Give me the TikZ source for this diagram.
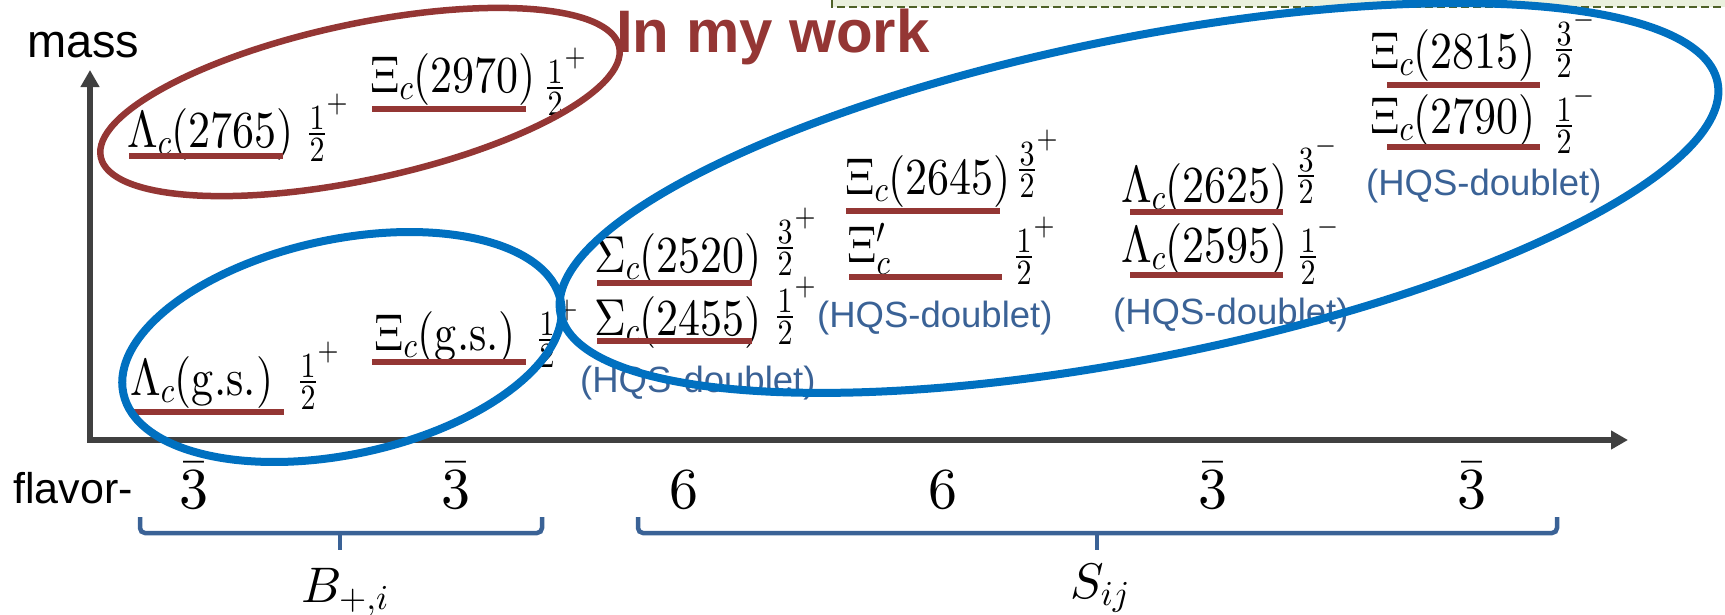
\RequirePackage{fix-cm}
\documentclass[tikz,border=0pt]{standalone}
\usepackage[no-math]{fontspec}
\DeclareFontShape{OT1}{cmr}{m}{n}{<->cmr10}{}
\DeclareFontShape{OML}{cmm}{m}{it}{<->cmmi10}{}
\DeclareFontShape{OMS}{cmsy}{m}{n}{<->cmsy10}{}
\DeclareFontShape{OMX}{cmex}{m}{n}{<->cmex10}{}
\newfontfamily\sfarial{Liberation Sans}
\usetikzlibrary{arrows.meta,shapes.geometric}
\definecolor{myred}{RGB}{148,54,52}
\definecolor{myblue}{RGB}{0,112,192}
\definecolor{hqs}{RGB}{58,98,150}
\definecolor{axisgray}{RGB}{64,64,64}
\definecolor{olivedash}{RGB}{79,98,40}
\definecolor{palegreen}{RGB}{235,241,222}
\tikzset{
  pname/.style={anchor=base west, inner sep=0pt, yscale=1.18, transform shape, font=\fontsize{44}{48}\selectfont},
  spinnum/.style={anchor=south, inner sep=0pt, yscale=1.18, transform shape, font=\fontsize{30}{32}\selectfont},
  spinsign/.style={inner sep=0pt, yscale=1.18, transform shape, font=\fontsize{27}{29}\selectfont},
  fracbar/.style={draw=black, line width=1.6pt},
  pics/spinfrac/.style n args={3}{code={
    \node[spinnum] (-n) at (0,-4) {$#1$};
    \draw[fracbar] (-8,0) -- (8,0);
    \node[spinnum, anchor=north] (-d) at (0,4) {$#2$};
    \node[spinsign] (-s) at (20,-29) {$#3$};
  }},
  uline/.style={draw=myred, line width=5.5pt},
  hqslab/.style={anchor=base west, inner sep=0pt, text=hqs, font=\fontsize{36.5}{40}\sfarial},
  flav/.style={anchor=base, inner sep=0pt, font=\fontsize{58}{60}\selectfont},
  sublab/.style={anchor=base, inner sep=0pt, font=\fontsize{50}{54}\selectfont},
  bracestyle/.style={draw=hqs, line width=4.5pt, rounded corners=5pt},
  axisline/.style={draw=axisgray, line width=5.5pt, {Triangle[length=17pt,width=18pt]}-{Triangle[length=17pt,width=18pt]}},
  ringstyle/.style={ellipse, draw, inner sep=0pt, line width=7pt},
}
\begin{document}
\begin{tikzpicture}[x=1pt,y=-1pt]
\useasboundingbox (0,0) rectangle (1725,614);
% dashed box at top right
\fill[palegreen] (832,0) rectangle (1725,7);
\draw[olivedash, line width=2pt, dash pattern=on 8pt off 4pt] (832,0) -- (832,7) -- (1725,7);

% axes
\coordinate (orig) at (90,440);
\coordinate (ytip) at (90,70);
\coordinate (xtip) at (1628,440);
\draw[axisline] (ytip) |- (xtip);

% axis labels
\node[anchor=base west, inner sep=0pt, font=\fontsize{47}{50}\sfarial] (mass) at (27,57) {mass};
\node[anchor=base west, inner sep=0pt, font=\fontsize{43}{46}\sfarial] (flavor) at (13,503) {flavor-};
\node[anchor=base west, inner sep=0pt, text=myred, font=\fontsize{60}{62}\sfarial\bfseries] (mywork) at (616,52) {In my work};

% flavor values
\node[flav] (f1) at (194,508) {$\bar{3}$};
\node[flav] (f2) at (456,508) {$\bar{3}$};
\node[flav] (f3) at (684,508) {$6$};
\node[flav] (f4) at (943,508) {$6$};
\node[flav] (f5) at (1213,508) {$\bar{3}$};
\node[flav] (f6) at (1472,508) {$\bar{3}$};

% braces
\draw[bracestyle] (140,517) -- (140,533) -- (542,533) -- (542,517);
\draw[bracestyle, rounded corners=0pt] (340,533) -- (340,550);
\draw[bracestyle] (638,517) -- (638,533) -- (1557,533) -- (1557,517);
\draw[bracestyle, rounded corners=0pt] (1097,533) -- (1097,550);
\node[sublab] (B) at (345,602) {$B_{+,i}$};
\node[sublab] (S) at (1100,598) {$S_{ij}$};

% particles
\node[pname] (L2765) at (127,147) {$\Lambda_c(2765)$};
\draw[uline] (129,156) -- (283,156);
\pic (sL2765) at (317,134) {spinfrac={1}{2}{+}};

\node[pname] (X2970) at (370,92) {$\Xi_c(2970)$};
\draw[uline] (372,109) -- (526,109);
\pic (sX2970) at (555,88) {spinfrac={1}{2}{+}};

\node[pname] (Lgs) at (130,395) {$\Lambda_c(\mathrm{g.s.})$};
\draw[uline] (132,412) -- (284,412);
\pic (sLgs) at (308,382) {spinfrac={1}{2}{+}};

\node[pname] (Xgs) at (374,350) {$\Xi_c(\mathrm{g.s.})$};
\draw[uline] (372,362) -- (526,362);
\pic (sXgs) at (547,340) {spinfrac={1}{2}{+}};

\node[pname] (S2520) at (594,272) {$\Sigma_c(2520)$};
\draw[uline] (597,283) -- (752,283);
\pic (sS2520) at (785,248) {spinfrac={3}{2}{+}};

\node[pname] (S2455) at (594,335) {$\Sigma_c(2455)$};
\draw[uline] (597,341) -- (752,341);
\pic (sS2455) at (785,317) {spinfrac={1}{2}{+}};

\node[pname] (X2645) at (845,194) {$\Xi_c(2645)$};
\draw[uline] (846,211) -- (1000,211);
\pic (sX2645) at (1027,170) {spinfrac={3}{2}{+}};

\node[pname] (Xp) at (847,262) {$\Xi'_c$};
\draw[uline] (849,277) -- (1002,277);
\pic (sXp) at (1024,257) {spinfrac={1}{2}{+}};

\node[pname] (L2625) at (1121,202) {$\Lambda_c(2625)$};
\draw[uline] (1130,212) -- (1283,212);
\pic (sL2625) at (1306,176) {spinfrac={3}{2}{-}};

\node[pname] (L2595) at (1121,262) {$\Lambda_c(2595)$};
\draw[uline] (1130,275) -- (1283,275);
\pic (sL2595) at (1308,257) {spinfrac={1}{2}{-}};

\node[pname] (X2815) at (1370,68) {$\Xi_c(2815)$};
\draw[uline] (1387,85) -- (1540,85);
\pic (sX2815) at (1564,50) {spinfrac={3}{2}{-}};

\node[pname] (X2790) at (1370,133) {$\Xi_c(2790)$};
\draw[uline] (1387,147) -- (1540,147);
\pic (sX2790) at (1564,126) {spinfrac={1}{2}{-}};

% HQS doublet labels
\node[hqslab] (h1) at (817,327) {(HQS-doublet)};
\node[hqslab] (h2) at (580,392) {(HQS-doublet)};
\node[hqslab] (h3) at (1113,324) {(HQS-doublet)};
\node[hqslab] (h4) at (1366,195) {(HQS-doublet)};

% rings
\node[ringstyle, draw=myred, line width=6.5pt, minimum width=530pt, minimum height=156pt, rotate=12] (redring) at (360,102) {};
\node[ringstyle, draw=myblue, line width=8pt, minimum width=447pt, minimum height=215pt, rotate=12] (smallring) at (342,347) {};
\node[ringstyle, draw=myblue, line width=8pt, minimum width=1180pt, minimum height=320pt, rotate=11.3] (bigring) at (1139,198) {};
\end{tikzpicture}
\end{document}
